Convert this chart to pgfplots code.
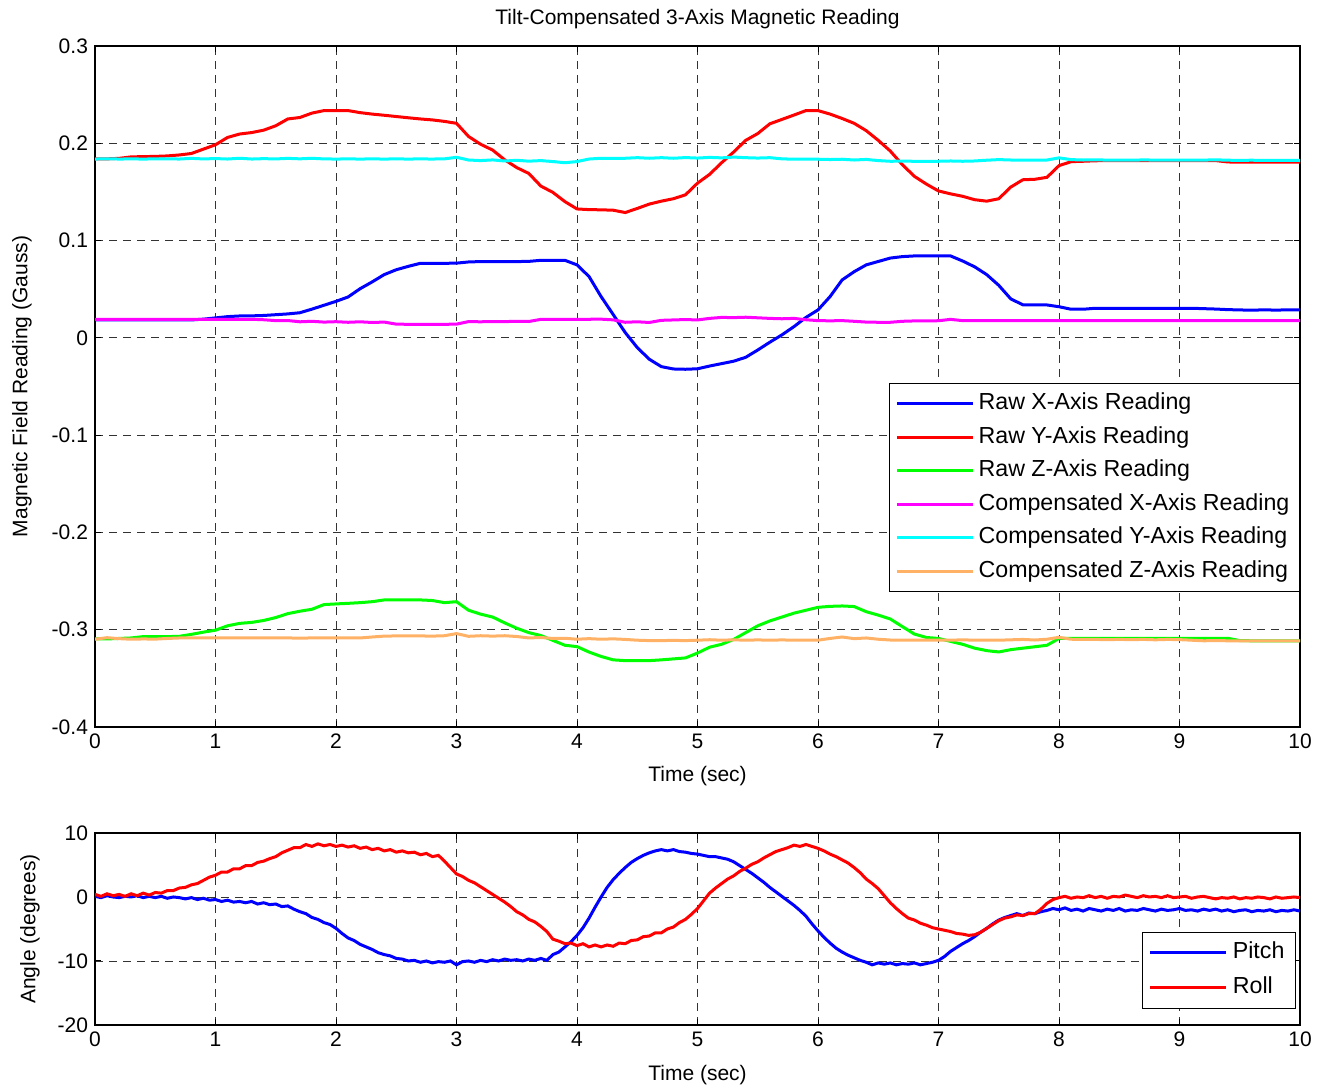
\documentclass[border=0pt]{standalone}
\usepackage{fontspec}
\setmainfont{Liberation Sans}
\usepackage{pgfplots}
\pgfplotsset{compat=1.18}

\definecolor{mBlue}{RGB}{0,0,255}
\definecolor{mRed}{RGB}{255,0,0}
\definecolor{mGreen}{RGB}{0,255,0}
\definecolor{mMagenta}{RGB}{255,0,255}
\definecolor{mCyan}{RGB}{0,255,255}
\definecolor{mOrange}{RGB}{255,178,102}

\pgfplotsset{
  every axis title shift=0pt,
  matlab/.style={
    scale only axis,
    xmin=0, xmax=10,
    xtick={0,1,2,3,4,5,6,7,8,9,10},
    xticklabels={0,1,2,3,4,5,6,7,8,9,10},
    tick align=inside, tick pos=both, major tick length=3pt,
    grid=major,
    major grid style={black!80, line width=0.4pt, dash pattern=on 4pt off 3pt},
    axis line style={line width=0.6pt},
    every tick/.style={black, line width=0.5pt},
    tick label style={font=\fontsize{10.5}{12}\selectfont},
    label style={font=\fontsize{10.5}{12}\selectfont},
    legend cell align=left,
    legend style={font=\fontsize{11.6}{13}\selectfont, draw=black, line width=0.6pt,
      fill=white, inner xsep=3pt, inner ysep=1.5pt,
      nodes={inner xsep=2pt, inner ysep=2.9pt, text height=8.5pt, text depth=2.5pt}},
    legend image code/.code={\path (0pt,0pt) -- (3pt,0pt);
      \draw[#1] (3pt,0pt) -- (38pt,0pt);},
    every axis plot/.append style={line width=1.5pt},
  }
}

\begin{document}
\begin{tikzpicture}
\useasboundingbox (0,0) rectangle (665pt,545pt);

% ---------------- magnetometer readings ----------------
\begin{axis}[matlab,
  at={(47.5pt,181.5pt)}, anchor=south west,
  width=602.5pt, height=340.5pt,
  ymin=-0.4, ymax=0.3,
  ytick={-0.4,-0.3,-0.2,-0.1,0,0.1,0.2,0.3},
  yticklabels={-0.4,-0.3,-0.2,-0.1,0,0.1,0.2,0.3},
  title={Tilt-Compensated 3-Axis Magnetic Reading},
  title style={at={(axis description cs:0.5,1.0396)}, anchor=center, font=\fontsize{10.5}{12}\selectfont},
  xlabel={Time (sec)},
  xlabel style={at={(axis description cs:0.5,-0.072)}, anchor=center},
  ylabel={Magnetic Field Reading (Gauss)},
  ylabel style={at={(axis description cs:-0.0606,0.5)}, anchor=center},
  legend style={at={(1,0.505)}, anchor=north east},
]
% Raw X
\addplot[mBlue] coordinates {
(0.0,0.0184) (0.1,0.0184) (0.2,0.0184) (0.3,0.0184) (0.4,0.0184) (0.5,0.0184) (0.6,0.0184) (0.7,0.0184) (0.8,0.0184) (0.9,0.0192)
(1.0,0.0205) (1.1,0.0218) (1.2,0.0225) (1.3,0.0226) (1.4,0.0230) (1.5,0.0238) (1.6,0.0246) (1.7,0.0258) (1.8,0.0295) (1.9,0.0335)
(2.0,0.0375) (2.1,0.0420) (2.2,0.0505) (2.3,0.0575) (2.4,0.0650) (2.5,0.0700) (2.6,0.0735) (2.7,0.0766) (2.8,0.0766) (2.9,0.0766)
(3.0,0.0768) (3.1,0.0780) (3.2,0.0784) (3.3,0.0784) (3.4,0.0784) (3.5,0.0784) (3.6,0.0786) (3.7,0.0797) (3.8,0.0797) (3.9,0.0797)
(4.0,0.0750) (4.1,0.0630) (4.2,0.0424) (4.3,0.0240) (4.4,0.0055) (4.5,-0.0100) (4.6,-0.0220) (4.7,-0.0296) (4.8,-0.0320) (4.9,-0.0323)
(5.0,-0.0318) (5.1,-0.0290) (5.2,-0.0265) (5.3,-0.0240) (5.4,-0.0200) (5.5,-0.0125) (5.6,-0.0045) (5.7,0.0030) (5.8,0.0115) (5.9,0.0210)
(6.0,0.0287) (6.1,0.0424) (6.2,0.0595) (6.3,0.0680) (6.4,0.0750) (6.5,0.0785) (6.6,0.0820) (6.7,0.0835) (6.8,0.0842) (6.9,0.0842)
(7.0,0.0842) (7.1,0.0842) (7.2,0.0790) (7.3,0.0730) (7.4,0.0650) (7.5,0.0540) (7.6,0.0400) (7.7,0.0340) (7.8,0.0338) (7.9,0.0338)
(8.0,0.0320) (8.1,0.0294) (8.2,0.0294) (8.3,0.0304) (8.4,0.0302) (8.5,0.0304) (8.6,0.0304) (8.7,0.0302) (8.8,0.0304) (8.9,0.0304)
(9.0,0.0304) (9.1,0.0304) (9.2,0.0300) (9.3,0.0296) (9.4,0.0290) (9.5,0.0287) (9.6,0.0284) (9.7,0.0288) (9.8,0.0285) (9.9,0.0288) (10.0,0.0287)
};
\addlegendentry{Raw X-Axis Reading}
% Raw Y
\addplot[mRed] coordinates {
(0.0,0.1840) (0.1,0.1840) (0.2,0.1845) (0.3,0.1860) (0.4,0.1863) (0.5,0.1865) (0.6,0.1870) (0.7,0.1880) (0.8,0.1895) (0.9,0.1940)
(1.0,0.1985) (1.1,0.2060) (1.2,0.2095) (1.3,0.2110) (1.4,0.2135) (1.5,0.2180) (1.6,0.2250) (1.7,0.2265) (1.8,0.2310) (1.9,0.2336)
(2.0,0.2336) (2.1,0.2336) (2.2,0.2315) (2.3,0.2300) (2.4,0.2288) (2.5,0.2275) (2.6,0.2262) (2.7,0.2250) (2.8,0.2240) (2.9,0.2225)
(3.0,0.2205) (3.1,0.2070) (3.2,0.1990) (3.3,0.1930) (3.4,0.1830) (3.5,0.1750) (3.6,0.1690) (3.7,0.1560) (3.8,0.1495) (3.9,0.1400)
(4.0,0.1325) (4.1,0.1318) (4.2,0.1316) (4.3,0.1312) (4.4,0.1288) (4.5,0.1330) (4.6,0.1375) (4.7,0.1405) (4.8,0.1430) (4.9,0.1470)
(5.0,0.1590) (5.1,0.1680) (5.2,0.1800) (5.3,0.1910) (5.4,0.2030) (5.5,0.2100) (5.6,0.2200) (5.7,0.2245) (5.8,0.2290) (5.9,0.2336)
(6.0,0.2336) (6.1,0.2300) (6.2,0.2255) (6.3,0.2205) (6.4,0.2130) (6.5,0.2030) (6.6,0.1920) (6.7,0.1780) (6.8,0.1660) (6.9,0.1580)
(7.0,0.1510) (7.1,0.1480) (7.2,0.1455) (7.3,0.1420) (7.4,0.1405) (7.5,0.1430) (7.6,0.1550) (7.7,0.1625) (7.8,0.1630) (7.9,0.1650)
(8.0,0.1770) (8.1,0.1811) (8.2,0.1815) (8.3,0.1820) (8.4,0.1822) (8.5,0.1822) (8.6,0.1822) (8.7,0.1822) (8.8,0.1822) (8.9,0.1822)
(9.0,0.1822) (9.1,0.1822) (9.2,0.1822) (9.3,0.1822) (9.4,0.1808) (9.5,0.1805) (9.6,0.1805) (9.7,0.1805) (9.8,0.1805) (9.9,0.1805) (10.0,0.1805)
};
\addlegendentry{Raw Y-Axis Reading}
% Raw Z
\addplot[mGreen] coordinates {
(0.0,-0.3095) (0.1,-0.3095) (0.2,-0.3090) (0.3,-0.3085) (0.4,-0.3071) (0.5,-0.3071) (0.6,-0.3071) (0.7,-0.3068) (0.8,-0.3048) (0.9,-0.3025)
(1.0,-0.3005) (1.1,-0.2960) (1.2,-0.2935) (1.3,-0.2925) (1.4,-0.2905) (1.5,-0.2875) (1.6,-0.2835) (1.7,-0.2810) (1.8,-0.2790) (1.9,-0.2742)
(2.0,-0.2735) (2.1,-0.2729) (2.2,-0.2722) (2.3,-0.2712) (2.4,-0.2694) (2.5,-0.2694) (2.6,-0.2694) (2.7,-0.2694) (2.8,-0.2700) (2.9,-0.2722)
(3.0,-0.2712) (3.1,-0.2800) (3.2,-0.2840) (3.3,-0.2870) (3.4,-0.2930) (3.5,-0.2985) (3.6,-0.3030) (3.7,-0.3060) (3.8,-0.3110) (3.9,-0.3160)
(4.0,-0.3174) (4.1,-0.3230) (4.2,-0.3275) (4.3,-0.3310) (4.4,-0.3318) (4.5,-0.3318) (4.6,-0.3318) (4.7,-0.3310) (4.8,-0.3300) (4.9,-0.3290)
(5.0,-0.3240) (5.1,-0.3180) (5.2,-0.3150) (5.3,-0.3100) (5.4,-0.3030) (5.5,-0.2960) (5.6,-0.2910) (5.7,-0.2870) (5.8,-0.2830) (5.9,-0.2800)
(6.0,-0.2770) (6.1,-0.2760) (6.2,-0.2756) (6.3,-0.2762) (6.4,-0.2815) (6.5,-0.2850) (6.6,-0.2890) (6.7,-0.2968) (6.8,-0.3045) (6.9,-0.3080)
(7.0,-0.3090) (7.1,-0.3120) (7.2,-0.3150) (7.3,-0.3190) (7.4,-0.3215) (7.5,-0.3229) (7.6,-0.3205) (7.7,-0.3190) (7.8,-0.3175) (7.9,-0.3160)
(8.0,-0.3090) (8.1,-0.3088) (8.2,-0.3088) (8.3,-0.3088) (8.4,-0.3088) (8.5,-0.3088) (8.6,-0.3088) (8.7,-0.3088) (8.8,-0.3088) (8.9,-0.3088)
(9.0,-0.3088) (9.1,-0.3088) (9.2,-0.3088) (9.3,-0.3088) (9.4,-0.3088) (9.5,-0.3112) (9.6,-0.3114) (9.7,-0.3114) (9.8,-0.3115) (9.9,-0.3115) (10.0,-0.3116)
};
\addlegendentry{Raw Z-Axis Reading}
% Compensated X
\addplot[mMagenta] coordinates {
(0.0,0.0191) (0.1,0.0191) (0.2,0.0191) (0.3,0.0191) (0.4,0.0191) (0.5,0.0191) (0.6,0.0191) (0.7,0.0191) (0.8,0.0191) (0.9,0.0191)
(1.0,0.0191) (1.1,0.0191) (1.2,0.0191) (1.3,0.0191) (1.4,0.0186) (1.5,0.0177) (1.6,0.0178) (1.7,0.0165) (1.8,0.0170) (1.9,0.0162)
(2.0,0.0166) (2.1,0.0160) (2.2,0.0165) (2.3,0.0158) (2.4,0.0162) (2.5,0.0141) (2.6,0.0139) (2.7,0.0139) (2.8,0.0139) (2.9,0.0139)
(3.0,0.0141) (3.1,0.0167) (3.2,0.0165) (3.3,0.0168) (3.4,0.0167) (3.5,0.0170) (3.6,0.0168) (3.7,0.0190) (3.8,0.0191) (3.9,0.0191)
(4.0,0.0191) (4.1,0.0191) (4.2,0.0192) (4.3,0.0185) (4.4,0.0160) (4.5,0.0165) (4.6,0.0158) (4.7,0.0180) (4.8,0.0184) (4.9,0.0188)
(5.0,0.0184) (5.1,0.0200) (5.2,0.0210) (5.3,0.0208) (5.4,0.0212) (5.5,0.0206) (5.6,0.0200) (5.7,0.0196) (5.8,0.0200) (5.9,0.0186)
(6.0,0.0177) (6.1,0.0175) (6.2,0.0177) (6.3,0.0170) (6.4,0.0162) (6.5,0.0160) (6.6,0.0160) (6.7,0.0170) (6.8,0.0174) (6.9,0.0174)
(7.0,0.0176) (7.1,0.0190) (7.2,0.0177) (7.3,0.0177) (7.4,0.0177) (7.5,0.0177) (7.6,0.0177) (7.7,0.0177) (7.8,0.0177) (7.9,0.0177)
(8.0,0.0177) (8.1,0.0177) (8.2,0.0177) (8.3,0.0177) (8.4,0.0177) (8.5,0.0177) (8.6,0.0177) (8.7,0.0177) (8.8,0.0177) (8.9,0.0177)
(9.0,0.0177) (9.1,0.0177) (9.2,0.0177) (9.3,0.0177) (9.4,0.0177) (9.5,0.0177) (9.6,0.0177) (9.7,0.0177) (9.8,0.0177) (9.9,0.0177) (10.0,0.0177)
};
\addlegendentry{Compensated X-Axis Reading}
% Compensated Y
\addplot[mCyan] coordinates {
(0.0,0.1838) (0.1,0.1840) (0.2,0.1838) (0.3,0.1839) (0.4,0.1838) (0.5,0.1839) (0.6,0.1840) (0.7,0.1838) (0.8,0.1845) (0.9,0.1839)
(1.0,0.1843) (1.1,0.1838) (1.2,0.1846) (1.3,0.1838) (1.4,0.1842) (1.5,0.1839) (1.6,0.1845) (1.7,0.1840) (1.8,0.1846) (1.9,0.1839)
(2.0,0.1838) (2.1,0.1839) (2.2,0.1838) (2.3,0.1839) (2.4,0.1838) (2.5,0.1839) (2.6,0.1838) (2.7,0.1839) (2.8,0.1838) (2.9,0.1840)
(3.0,0.1856) (3.1,0.1828) (3.2,0.1822) (3.3,0.1829) (3.4,0.1818) (3.5,0.1825) (3.6,0.1816) (3.7,0.1822) (3.8,0.1812) (3.9,0.1800)
(4.0,0.1812) (4.1,0.1838) (4.2,0.1846) (4.3,0.1844) (4.4,0.1846) (4.5,0.1852) (4.6,0.1846) (4.7,0.1852) (4.8,0.1846) (4.9,0.1853)
(5.0,0.1848) (5.1,0.1855) (5.2,0.1850) (5.3,0.1858) (5.4,0.1852) (5.5,0.1848) (5.6,0.1852) (5.7,0.1840) (5.8,0.1836) (5.9,0.1838)
(6.0,0.1836) (6.1,0.1833) (6.2,0.1836) (6.3,0.1828) (6.4,0.1834) (6.5,0.1822) (6.6,0.1815) (6.7,0.1816) (6.8,0.1815) (6.9,0.1815)
(7.0,0.1815) (7.1,0.1818) (7.2,0.1815) (7.3,0.1818) (7.4,0.1826) (7.5,0.1832) (7.6,0.1828) (7.7,0.1826) (7.8,0.1826) (7.9,0.1828)
(8.0,0.1850) (8.1,0.1832) (8.2,0.1828) (8.3,0.1830) (8.4,0.1827) (8.5,0.1828) (8.6,0.1826) (8.7,0.1829) (8.8,0.1827) (8.9,0.1828)
(9.0,0.1826) (9.1,0.1828) (9.2,0.1827) (9.3,0.1830) (9.4,0.1826) (9.5,0.1824) (9.6,0.1826) (9.7,0.1823) (9.8,0.1825) (9.9,0.1824) (10.0,0.1824)
};
\addlegendentry{Compensated Y-Axis Reading}
% Compensated Z
\addplot[mOrange] coordinates {
(0.0,-0.3098) (0.1,-0.3082) (0.2,-0.3092) (0.3,-0.3098) (0.4,-0.3095) (0.5,-0.3097) (0.6,-0.3090) (0.7,-0.3085) (0.8,-0.3083) (0.9,-0.3085)
(1.0,-0.3085) (1.1,-0.3083) (1.2,-0.3085) (1.3,-0.3085) (1.4,-0.3083) (1.5,-0.3085) (1.6,-0.3085) (1.7,-0.3086) (1.8,-0.3085) (1.9,-0.3085)
(2.0,-0.3085) (2.1,-0.3085) (2.2,-0.3085) (2.3,-0.3075) (2.4,-0.3066) (2.5,-0.3064) (2.6,-0.3064) (2.7,-0.3064) (2.8,-0.3066) (2.9,-0.3062)
(3.0,-0.3040) (3.1,-0.3068) (3.2,-0.3062) (3.3,-0.3066) (3.4,-0.3062) (3.5,-0.3070) (3.6,-0.3085) (3.7,-0.3080) (3.8,-0.3090) (3.9,-0.3088)
(4.0,-0.3098) (4.1,-0.3092) (4.2,-0.3098) (4.3,-0.3094) (4.4,-0.3100) (4.5,-0.3108) (4.6,-0.3112) (4.7,-0.3112) (4.8,-0.3110) (4.9,-0.3112)
(5.0,-0.3108) (5.1,-0.3103) (5.2,-0.3108) (5.3,-0.3104) (5.4,-0.3108) (5.5,-0.3105) (5.6,-0.3108) (5.7,-0.3105) (5.8,-0.3108) (5.9,-0.3106)
(6.0,-0.3108) (6.1,-0.3090) (6.2,-0.3075) (6.3,-0.3092) (6.4,-0.3085) (6.5,-0.3098) (6.6,-0.3106) (6.7,-0.3108) (6.8,-0.3106) (6.9,-0.3108)
(7.0,-0.3106) (7.1,-0.3108) (7.2,-0.3104) (7.3,-0.3108) (7.4,-0.3106) (7.5,-0.3108) (7.6,-0.3104) (7.7,-0.3100) (7.8,-0.3106) (7.9,-0.3098)
(8.0,-0.3078) (8.1,-0.3098) (8.2,-0.3100) (8.3,-0.3100) (8.4,-0.3102) (8.5,-0.3100) (8.6,-0.3102) (8.7,-0.3100) (8.8,-0.3104) (8.9,-0.3100)
(9.0,-0.3102) (9.1,-0.3108) (9.2,-0.3114) (9.3,-0.3112) (9.4,-0.3114) (9.5,-0.3116) (9.6,-0.3114) (9.7,-0.3116) (9.8,-0.3115) (9.9,-0.3116) (10.0,-0.3116)
};
\addlegendentry{Compensated Z-Axis Reading}
\end{axis}

% ---------------- attitude angles ----------------
\begin{axis}[matlab,
  at={(47.5pt,32.5pt)}, anchor=south west,
  width=602.5pt, height=96pt,
  ymin=-20, ymax=10,
  ytick={-20,-10,0,10},
  yticklabels={-20,-10,0,10},
  xlabel={Time (sec)},
  xlabel style={at={(axis description cs:0.5,-0.26)}, anchor=center},
  ylabel={Angle (degrees)},
  ylabel style={at={(axis description cs:-0.054,0.5)}, anchor=center},
  legend style={at={(0.9967,0.0833)}, anchor=south east,
    nodes={inner xsep=2.5pt, inner ysep=3.25pt, text height=8.5pt, text depth=2.5pt}},
]
% Pitch
\addplot[mBlue] coordinates {
(0.00,0.1) (0.05,-0.1) (0.10,0.2) (0.15,0.0) (0.20,-0.1) (0.25,0.1) (0.30,0.0) (0.35,0.2) (0.40,-0.1) (0.45,0.1)
(0.50,-0.1) (0.55,0.1) (0.60,-0.2) (0.65,0.0) (0.70,-0.1) (0.75,-0.3) (0.80,-0.1) (0.85,-0.4) (0.90,-0.2) (0.95,-0.5)
(1.00,-0.4) (1.05,-0.7) (1.10,-0.5) (1.15,-0.8) (1.20,-0.7) (1.25,-0.9) (1.30,-0.7) (1.35,-1.1) (1.40,-0.9) (1.45,-1.2)
(1.50,-1.1) (1.55,-1.5) (1.60,-1.4) (1.65,-1.9) (1.70,-2.3) (1.75,-2.6) (1.80,-3.2) (1.85,-3.5) (1.90,-4.0) (1.95,-4.3)
(2.00,-4.9) (2.05,-5.7) (2.10,-6.4) (2.15,-6.8) (2.20,-7.4) (2.25,-7.8) (2.30,-8.2) (2.35,-8.7) (2.40,-9.0) (2.45,-9.2)
(2.50,-9.6) (2.55,-9.7) (2.60,-10.0) (2.65,-9.9) (2.70,-10.2) (2.75,-10.0) (2.80,-10.3) (2.85,-10.1) (2.90,-10.2) (2.95,-10.0)
(3.00,-10.6) (3.05,-10.1) (3.10,-10.0) (3.15,-10.2) (3.20,-9.9) (3.25,-10.1) (3.30,-9.8) (3.35,-10.0) (3.40,-9.7) (3.45,-9.9)
(3.50,-9.8) (3.55,-10.0) (3.60,-9.7) (3.65,-9.9) (3.70,-9.6) (3.75,-9.9) (3.80,-9.0) (3.85,-8.6) (3.90,-7.8) (3.95,-7.0)
(4.00,-6.0) (4.05,-4.8) (4.10,-3.3) (4.15,-1.6) (4.20,0.0) (4.25,1.5) (4.30,2.7) (4.35,3.7) (4.40,4.6) (4.45,5.4)
(4.50,6.0) (4.55,6.5) (4.60,6.9) (4.65,7.2) (4.70,7.4) (4.75,7.2) (4.80,7.4) (4.85,7.1) (4.90,7.0) (4.95,6.8)
(5.00,6.7) (5.05,6.5) (5.10,6.3) (5.15,6.3) (5.20,6.1) (5.25,5.9) (5.30,5.5) (5.35,4.9) (5.40,4.3) (5.45,3.7)
(5.50,3.0) (5.55,2.3) (5.60,1.5) (5.65,0.8) (5.70,0.1) (5.75,-0.6) (5.80,-1.3) (5.85,-2.1) (5.90,-3.0) (5.95,-4.2)
(6.00,-5.3) (6.05,-6.3) (6.10,-7.2) (6.15,-8.0) (6.20,-8.6) (6.25,-9.1) (6.30,-9.5) (6.35,-9.9) (6.40,-10.2) (6.45,-10.6)
(6.50,-10.3) (6.55,-10.5) (6.60,-10.3) (6.65,-10.6) (6.70,-10.4) (6.75,-10.5) (6.80,-10.3) (6.85,-10.6) (6.90,-10.4) (6.95,-10.2)
(7.00,-9.9) (7.05,-9.3) (7.10,-8.5) (7.15,-7.9) (7.20,-7.3) (7.25,-6.8) (7.30,-6.2) (7.35,-5.5) (7.40,-4.9) (7.45,-4.2)
(7.50,-3.6) (7.55,-3.2) (7.60,-2.9) (7.65,-2.6) (7.70,-2.9) (7.75,-2.5) (7.80,-2.6) (7.85,-2.3) (7.90,-2.1) (7.95,-1.8)
(8.00,-2.0) (8.05,-1.7) (8.10,-2.1) (8.15,-1.9) (8.20,-2.2) (8.25,-1.8) (8.30,-2.0) (8.35,-2.2) (8.40,-1.9) (8.45,-2.1)
(8.50,-1.8) (8.55,-2.2) (8.60,-2.0) (8.65,-2.1) (8.70,-1.8) (8.75,-2.0) (8.80,-2.2) (8.85,-1.9) (8.90,-2.1) (8.95,-2.0)
(9.00,-1.8) (9.05,-2.1) (9.10,-2.0) (9.15,-2.2) (9.20,-1.9) (9.25,-2.1) (9.30,-1.9) (9.35,-2.2) (9.40,-2.0) (9.45,-2.3)
(9.50,-2.1) (9.55,-2.0) (9.60,-2.3) (9.65,-2.1) (9.70,-2.2) (9.75,-2.0) (9.80,-2.3) (9.85,-2.1) (9.90,-2.2) (9.95,-2.0) (10.00,-2.2)
};
\addlegendentry{Pitch}
% Roll
\addplot[mRed] coordinates {
(0.00,0.4) (0.05,0.1) (0.10,0.5) (0.15,0.2) (0.20,0.4) (0.25,0.1) (0.30,0.5) (0.35,0.2) (0.40,0.6) (0.45,0.3)
(0.50,0.7) (0.55,0.6) (0.60,1.0) (0.65,1.0) (0.70,1.4) (0.75,1.5) (0.80,1.9) (0.85,2.1) (0.90,2.6) (0.95,3.1)
(1.00,3.4) (1.05,3.9) (1.10,3.9) (1.15,4.4) (1.20,4.4) (1.25,4.9) (1.30,4.9) (1.35,5.4) (1.40,5.6) (1.45,6.0)
(1.50,6.3) (1.55,6.9) (1.60,7.3) (1.65,7.7) (1.70,7.7) (1.75,8.2) (1.80,7.9) (1.85,8.3) (1.90,8.0) (1.95,8.2)
(2.00,7.9) (2.05,8.1) (2.10,7.8) (2.15,8.0) (2.20,7.6) (2.25,7.8) (2.30,7.4) (2.35,7.6) (2.40,7.2) (2.45,7.4)
(2.50,7.0) (2.55,7.2) (2.60,6.9) (2.65,7.0) (2.70,6.6) (2.75,6.8) (2.80,6.3) (2.85,6.5) (2.90,5.6) (2.95,4.6)
(3.00,3.6) (3.05,3.2) (3.10,2.6) (3.15,2.2) (3.20,1.6) (3.25,1.0) (3.30,0.4) (3.35,-0.2) (3.40,-0.8) (3.45,-1.5)
(3.50,-2.3) (3.55,-2.8) (3.60,-3.5) (3.65,-3.9) (3.70,-4.6) (3.75,-5.4) (3.80,-6.6) (3.85,-6.9) (3.90,-7.3) (3.95,-7.2)
(4.00,-7.6) (4.05,-7.3) (4.10,-7.8) (4.15,-7.5) (4.20,-7.8) (4.25,-7.5) (4.30,-7.7) (4.35,-7.2) (4.40,-7.3) (4.45,-6.8)
(4.50,-6.7) (4.55,-6.2) (4.60,-6.1) (4.65,-5.6) (4.70,-5.6) (4.75,-5.0) (4.80,-4.7) (4.85,-4.0) (4.90,-3.5) (4.95,-2.7)
(5.00,-1.8) (5.05,-0.6) (5.10,0.6) (5.15,1.4) (5.20,2.1) (5.25,2.8) (5.30,3.3) (5.35,4.0) (5.40,4.5) (5.45,5.1)
(5.50,5.5) (5.55,6.1) (5.60,6.6) (5.65,7.1) (5.70,7.4) (5.75,7.7) (5.80,8.1) (5.85,7.9) (5.90,8.2) (5.95,7.9)
(6.00,7.6) (6.05,7.2) (6.10,6.7) (6.15,6.3) (6.20,5.8) (6.25,5.3) (6.30,4.6) (6.35,3.8) (6.40,2.8) (6.45,2.1)
(6.50,1.3) (6.55,0.2) (6.60,-0.9) (6.65,-1.8) (6.70,-2.6) (6.75,-3.3) (6.80,-3.6) (6.85,-4.1) (6.90,-4.4) (6.95,-4.8)
(7.00,-5.0) (7.05,-5.2) (7.10,-5.4) (7.15,-5.7) (7.20,-5.8) (7.25,-6.0) (7.30,-5.9) (7.35,-5.5) (7.40,-4.9) (7.45,-4.3)
(7.50,-3.7) (7.55,-3.3) (7.60,-3.1) (7.65,-2.8) (7.70,-2.9) (7.75,-2.6) (7.80,-2.6) (7.85,-1.9) (7.90,-1.0) (7.95,-0.4)
(8.00,-0.1) (8.05,0.1) (8.10,-0.2) (8.15,0.0) (8.20,-0.1) (8.25,0.2) (8.30,-0.1) (8.35,0.1) (8.40,-0.2) (8.45,0.1)
(8.50,0.0) (8.55,0.3) (8.60,0.1) (8.65,-0.1) (8.70,0.2) (8.75,0.0) (8.80,0.1) (8.85,-0.1) (8.90,0.2) (8.95,-0.1)
(9.00,0.0) (9.05,0.1) (9.10,-0.2) (9.15,0.0) (9.20,0.1) (9.25,-0.1) (9.30,-0.3) (9.35,-0.1) (9.40,-0.2) (9.45,0.0)
(9.50,-0.3) (9.55,-0.1) (9.60,-0.2) (9.65,0.0) (9.70,-0.1) (9.75,-0.3) (9.80,0.0) (9.85,-0.2) (9.90,-0.1) (9.95,0.0) (10.00,-0.1)
};
\addlegendentry{Roll}
\end{axis}
\end{tikzpicture}
\end{document}
